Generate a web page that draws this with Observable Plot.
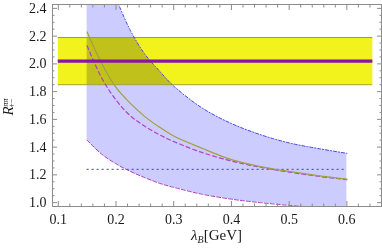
<!DOCTYPE html>
<html><head><meta charset="utf-8">
<script src="https://cdn.jsdelivr.net/npm/d3@7"></script>
<script src="https://cdn.jsdelivr.net/npm/@observablehq/plot@0.6"></script>
<style>body{margin:0;background:#fff}</style>
</head><body><div id="chart"></div>
<script>
// λ_B values (GeV) at which curves were read
const lambdaB = [0.15, 0.175, 0.2, 0.225, 0.25, 0.275, 0.3, 0.35, 0.4, 0.45, 0.5, 0.55, 0.6];
// theory band edges
const upper   = [3.0, 2.70, 2.47, 2.24, 2.07, 1.95, 1.84, 1.68, 1.57, 1.49, 1.43, 1.39, 1.355];
const lower   = [1.45, 1.35, 1.28, 1.225, 1.18, 1.14, 1.11, 1.06, 1.025, 1.0, 0.98, 0.965, 0.95];
// central curves
const central = [2.23, 2.005, 1.83, 1.715, 1.62, 1.545, 1.48, 1.39, 1.31, 1.26, 1.225, 1.195, 1.17];
const dashed  = [2.13, 1.90, 1.74, 1.625, 1.55, 1.49, 1.44, 1.36, 1.30, 1.255, 1.22, 1.19, 1.165];
const dottedLevel = 1.24;
// experimental band
const expCentral = 2.02, expLow = 1.85, expHigh = 2.19;
const expRange = [0.1, 0.645];
// ticks
const xTicks = [0.1, 0.2, 0.3, 0.4, 0.5, 0.6];
const yTicks = [1.0, 1.2, 1.4, 1.6, 1.8, 2.0, 2.2, 2.4];
const xMinor = d3.range(5, 33).map(i => i * 0.02).filter(v => Math.abs(v * 10 - Math.round(v * 10)) > 1e-6 && v >= 0.1);
const yMinor = d3.range(20, 49).map(i => i * 0.05).filter(v => Math.abs(v * 5 - Math.round(v * 5)) > 1e-6);

const rows = lambdaB.map((x, i) => ({x, upper: upper[i], lower: lower[i], central: central[i], dashed: dashed[i]}));
const band = [{x1: expRange[0], x2: expRange[1], y1: expLow, y2: expHigh}];
const bandLines = [
  {y: expHigh, x1: expRange[0], x2: expRange[1]},
  {y: expLow, x1: expRange[0], x2: expRange[1]}
];
const dotted = [{y: dottedLevel, x1: lambdaB[0], x2: lambdaB[lambdaB.length - 1]}];
const mid = [{y: expCentral, x1: expRange[0], x2: expRange[1]}];

const fmt = d3.format(".1f");
const serif = "'Liberation Serif', 'Times New Roman', serif";
const W = 382, H = 251, mL = 52, mR = 1, mT = 4, mB = 45;
const tickColor = "#8c8c8c";

const chart = Plot.plot({
  width: W, height: H,
  marginLeft: mL, marginRight: mR, marginTop: mT, marginBottom: mB,
  x: {domain: [0.09, 0.66]},
  y: {domain: [0.972, 2.428]},
  style: {fontFamily: serif, fontSize: "14px", background: "white", color: "#1a1a1a"},
  marks: [
    Plot.areaY(rows, {x: "x", y1: "lower", y2: "upper", fill: "#ccccff", curve: "catmull-rom", clip: true}),
    Plot.rect(band, {x1: "x1", x2: "x2", y1: "y1", y2: "y2", fill: "#f2f21c", mixBlendMode: "multiply"}),
    Plot.ruleY([bandLines[0]], {y: "y", x1: "x1", x2: "x2", stroke: "#9088d0", strokeWidth: 1}),
    Plot.ruleY([bandLines[1]], {y: "y", x1: "x1", x2: "x2", stroke: "#a6a218", strokeWidth: 1}),
    Plot.ruleY(dotted, {y: "y", x1: "x1", x2: "x2", stroke: "#3a3ad0", strokeWidth: 1, strokeDasharray: "2,3"}),
    Plot.line(rows, {x: "x", y: "upper", stroke: "#4848e0", strokeWidth: 1, strokeDasharray: "3,2,1,2", curve: "catmull-rom", clip: true}),
    Plot.line(rows, {x: "x", y: "lower", stroke: "#a83cc0", strokeWidth: 1, strokeDasharray: "4,2", curve: "catmull-rom", clip: true}),
    Plot.line(rows, {x: "x", y: "dashed", stroke: "#b040c8", strokeWidth: 1.2, strokeDasharray: "4,3", curve: "catmull-rom", clip: true}),
    Plot.line(rows, {x: "x", y: "central", stroke: "#a0a040", strokeWidth: 1.2, curve: "catmull-rom", clip: true}),
    Plot.ruleY(mid, {y: "y", x1: "x1", x2: "x2", stroke: "#8a14a8", strokeWidth: 3.2}),
    Plot.frame({stroke: tickColor}),
    Plot.axisX(xTicks, {anchor: "bottom", tickSize: -5, tickPadding: 13, tickFormat: fmt, stroke: tickColor, label: null}),
    Plot.axisX(xMinor, {anchor: "bottom", tickSize: -2.5, tickFormat: () => "", stroke: tickColor, label: null}),
    Plot.axisX(xTicks, {anchor: "top", tickSize: -5, tickFormat: () => "", stroke: tickColor, label: null}),
    Plot.axisX(xMinor, {anchor: "top", tickSize: -2.5, tickFormat: () => "", stroke: tickColor, label: null}),
    Plot.axisY(yTicks, {anchor: "left", tickSize: -5, tickPadding: 11, tickFormat: fmt, stroke: tickColor, label: null}),
    Plot.axisY(yMinor, {anchor: "left", tickSize: -2.5, tickFormat: () => "", stroke: tickColor, label: null}),
    Plot.axisY(yTicks, {anchor: "right", tickSize: -5, tickFormat: () => "", stroke: tickColor, label: null}),
    Plot.axisY(yMinor, {anchor: "right", tickSize: -2.5, tickFormat: () => "", stroke: tickColor, label: null})
  ]
});

document.getElementById("chart").appendChild(chart);
const svg = d3.select(chart.tagName.toLowerCase() === "svg" ? chart : chart.querySelector("svg"));
svg.selectAll('g[aria-label="rect"]').style("mix-blend-mode", "multiply");

// x-axis label: λ_B[GeV]
const cx = mL + (W - mL - mR) / 2;
const xl = svg.append("text")
  .attr("x", cx).attr("y", H - 11)
  .attr("text-anchor", "middle")
  .style("font-family", serif).style("font-size", "15px").attr("fill", "#1a1a1a");
xl.append("tspan").attr("font-style", "italic").text("λ");
xl.append("tspan").attr("font-style", "italic").attr("font-size", "10px").attr("dy", 3).text("B");
xl.append("tspan").attr("dy", -3).text("[GeV]");

// y-axis label: R^{ππ}_{+−}
const cy = 107;
const yl = svg.append("text")
  .attr("transform", `translate(13,${cy}) rotate(-90)`)
  .attr("text-anchor", "middle")
  .style("font-family", serif).style("font-size", "15px").attr("fill", "#1a1a1a");
yl.append("tspan").attr("font-style", "italic").text("R");
yl.append("tspan").attr("font-style", "italic").attr("font-size", "8px").attr("dy", -5).text("ππ");
yl.append("tspan").attr("font-size", "8px").attr("dx", -9).attr("dy", 6).text("+−");
</script>
</body></html>
